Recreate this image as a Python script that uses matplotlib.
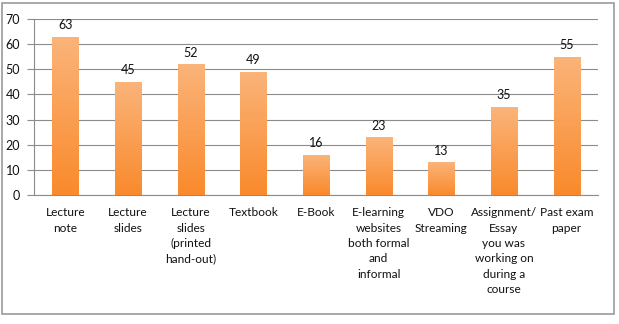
import numpy as np
import matplotlib.pyplot as plt
from matplotlib.colors import LinearSegmentedColormap
from matplotlib.patches import Rectangle

categories = ["Lecture\nnote", "Lecture\nslides", "Lecture\nslides\n(printed\nhand-out)",
              "Textbook", "E-Book", "E-learning\nwebsites\nboth formal\nand\ninformal",
              "VDO\nStreaming", "Assignment/\nEssay\nyou was\nworking on\nduring a\ncourse",
              "Past exam\npaper"]
values = [63, 45, 52, 49, 16, 23, 13, 35, 55]
yticks = [0, 10, 20, 30, 40, 50, 60, 70]

plt.rcParams['font.family'] = ['Lato', 'DejaVu Sans']

fig = plt.figure(figsize=(6.19, 3.24), dpi=100)
fig.patches.append(Rectangle((2 / 619, 1 - 314 / 324), 612 / 619, 311 / 324,
                             transform=fig.transFigure, fill=False,
                             edgecolor='#9a9a9a', linewidth=1.2))
ax = fig.add_axes([34 / 619, 1 - 195 / 324, 564 / 619, 176 / 324])

x = np.arange(len(values))
bars = ax.bar(x, values, width=0.42, color='none', edgecolor='none', zorder=3)

# vertical gradient, light at top, darker at bottom
cmap = LinearSegmentedColormap.from_list('og', ['#f98a2c', '#fbb47a'])
grad = np.linspace(0, 1, 256).reshape(-1, 1)
for b in bars:
    x0, w, h = b.get_x(), b.get_width(), b.get_height()
    im = ax.imshow(grad, cmap=cmap, aspect='auto', origin='lower',
                   extent=(x0, x0 + w, 0, h), zorder=3)
    im.set_clip_path(b)
    ax.text(x0 + w / 2, h + 2.2, str(int(h)), ha='center', va='bottom',
            fontsize=9, color='#111111')

ax.set_xlim(-0.5, len(values) - 0.5)
ax.set_ylim(0, 70)
ax.set_yticks(yticks)
ax.set_yticklabels([str(t) for t in yticks], fontsize=9, color='#111111')
ax.yaxis.grid(True, color='#8c8c8c', linewidth=0.8, zorder=0)
ax.set_axisbelow(True)
ax.set_xticks(x)
ax.set_xticklabels(categories, fontsize=8.6, va='top', linespacing=1.48,
                   color='#111111')
ax.tick_params(axis='x', length=0, pad=9)
ax.tick_params(axis='y', length=5, color='#8c8c8c', pad=5)
for s in ['top', 'right']:
    ax.spines[s].set_visible(False)
for s in ['left', 'bottom']:
    ax.spines[s].set_color('#8c8c8c')

fig.savefig('out.png', dpi=100)
